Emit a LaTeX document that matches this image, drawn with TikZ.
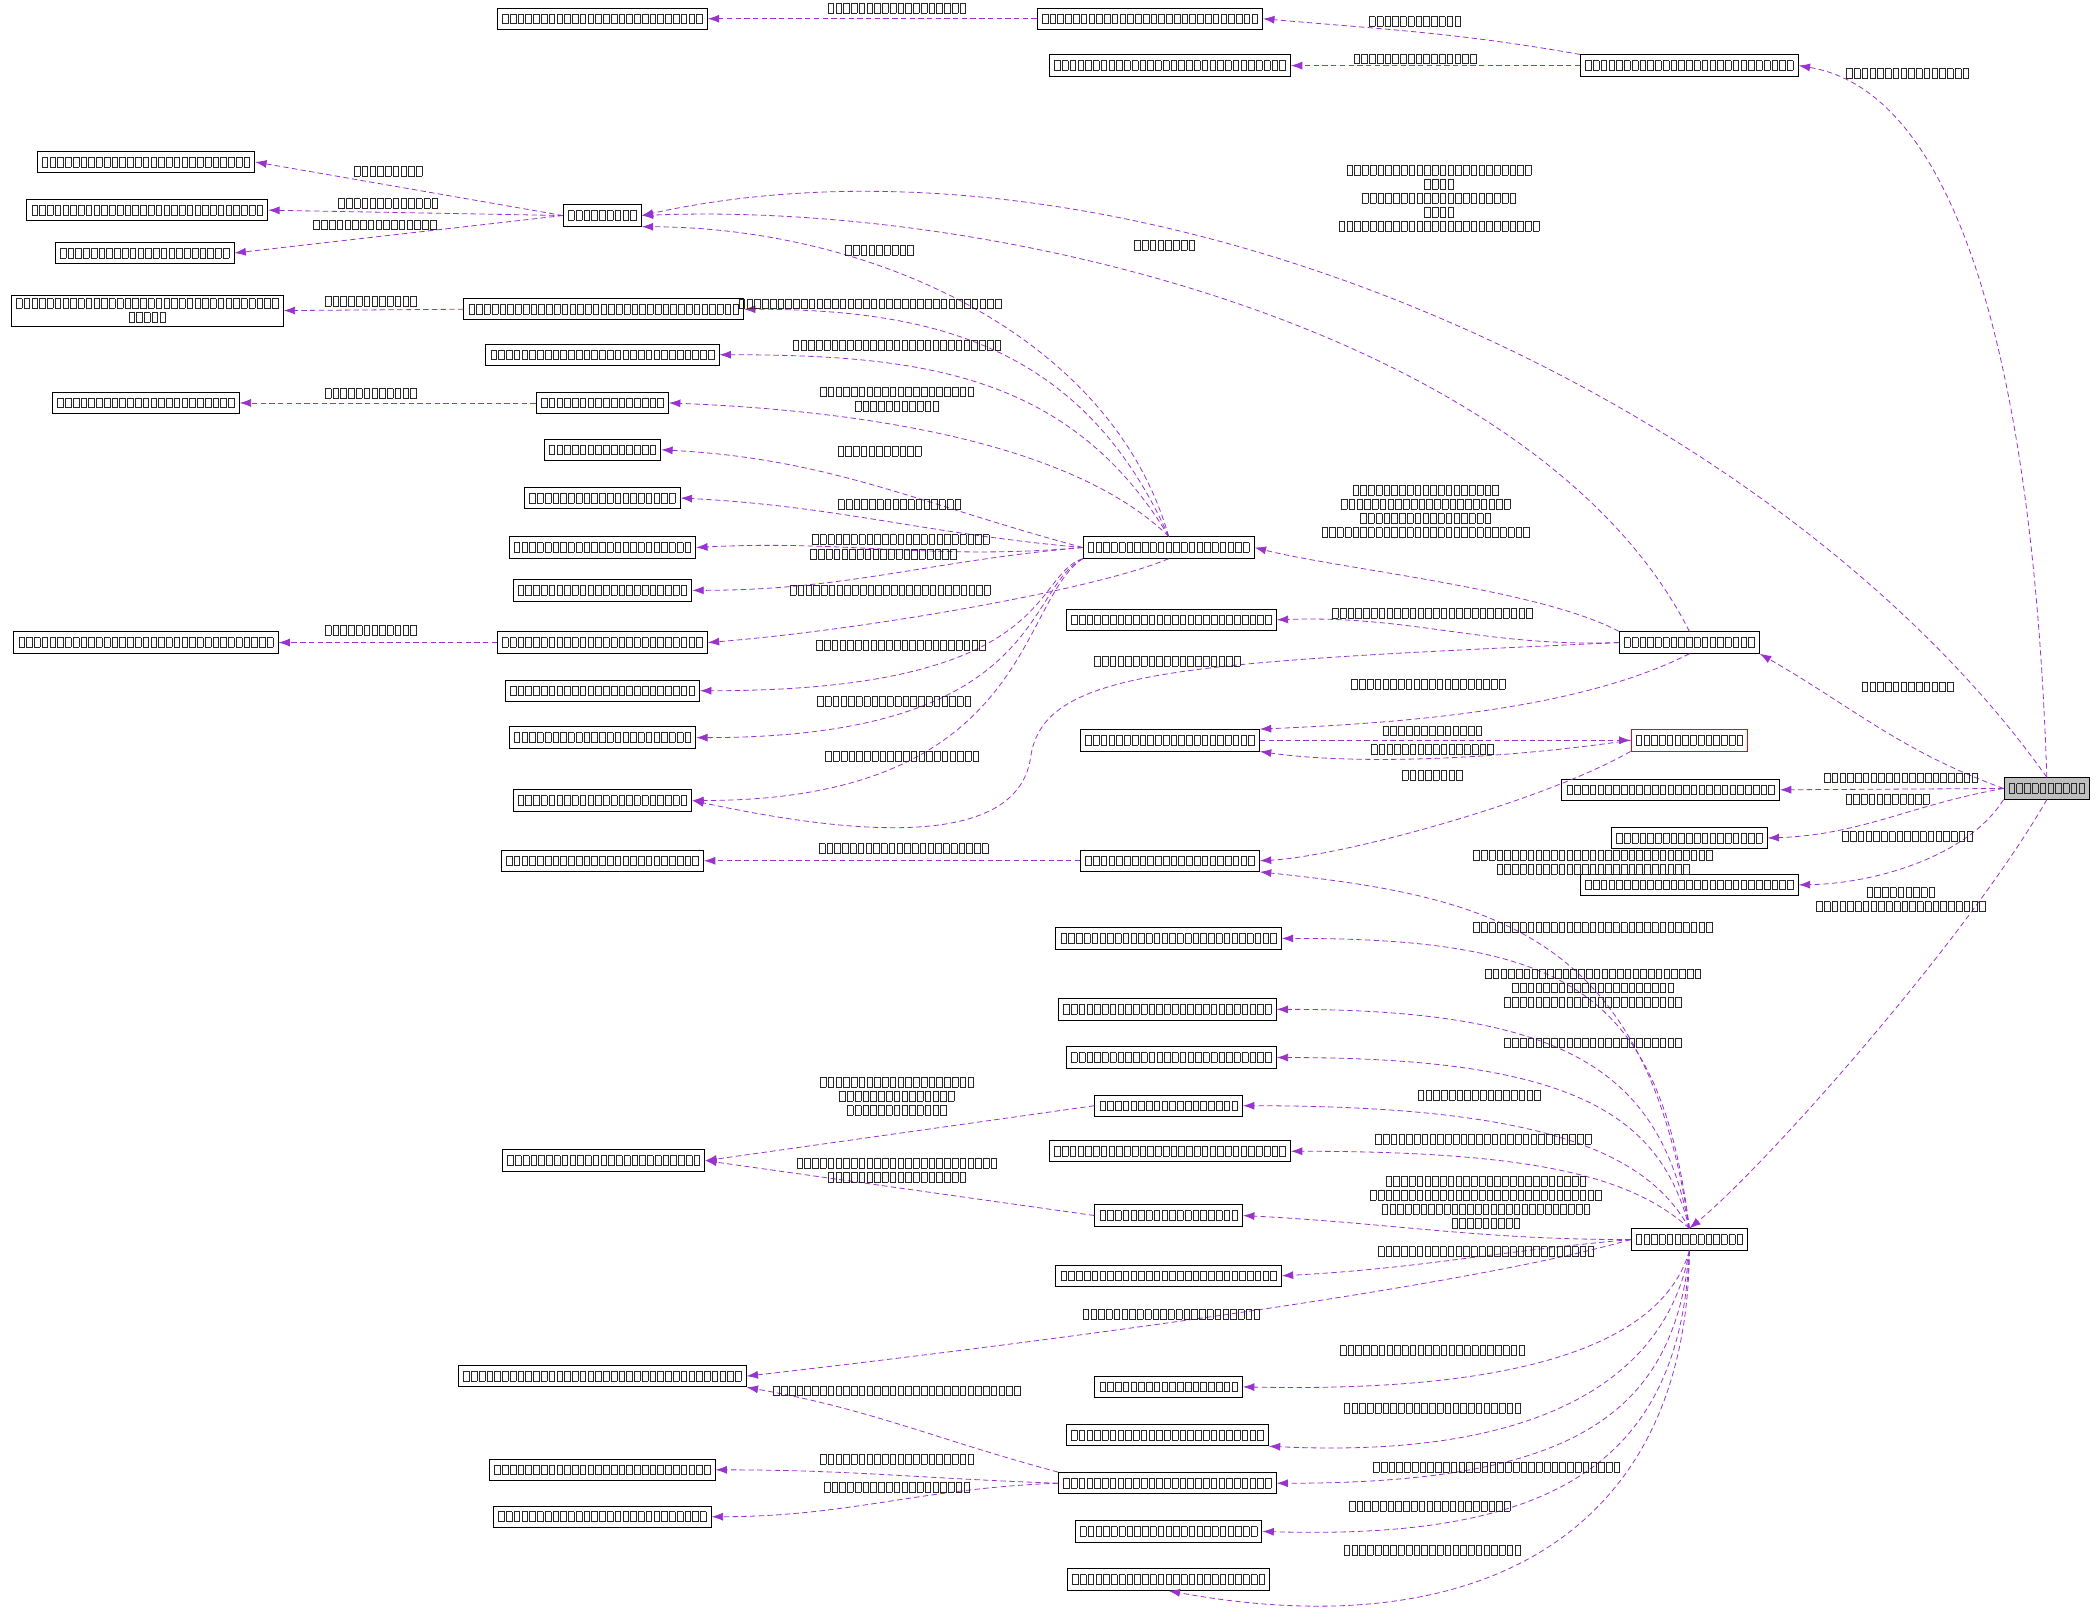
\documentclass[tikz,border=0pt]{standalone}
\usetikzlibrary{arrows.meta,positioning}
\definecolor{depcol}{RGB}{154,50,205}
\definecolor{rootfill}{RGB}{191,191,191}
\definecolor{glyphcol}{RGB}{40,40,40}
% one missing glyph, and a run of them about #1 units wide
\newcommand{\tofubox}{\makebox[5.8pt]{\fboxsep0pt\fboxrule.5pt\fbox{\rule{0pt}{6.8pt}\rule{3.7pt}{0pt}}}}
\newcommand{\gl}[1]{\pgfmathtruncatemacro\gn{#1/5.8+0.5}\foreach\i in {1,...,\gn}{\tofubox}}
\tikzset{x=1pt,y=-1pt}
\tikzset{cls/.style={draw=black,line width=.7pt,fill=white,inner xsep=3pt,inner ysep=2.5pt,minimum height=16,align=center,text=glyphcol,font=\fontsize{8}{10.5}\selectfont}}
\tikzset{lab/.style={align=center,inner sep=0pt,text=glyphcol,font=\fontsize{8}{10.5}\selectfont}}
\tikzset{dep/.style={depcol,line width=.6pt,dash pattern=on 4pt off 2.5pt,-{Latex[length=8.5pt,width=6pt]}}}
\begin{document}
\begin{tikzpicture}
  \useasboundingbox (0,0) rectangle (1568,1213);
  %% classes
  \node[cls] (A1) at (450,14) {\gl{150}};
  \node[cls] (A2) at (859,14) {\gl{164}};
  \node[cls] (A3) at (1262,49) {\gl{156}};
  \node[cls] (A4) at (874,49) {\gl{172}};
  \node[cls] (B1) at (109,121) {\gl{156}};
  \node[cls] (B2) at (110,157) {\gl{172}};
  \node[cls] (B3) at (108,189) {\gl{127}};
  \node[cls] (G) at (450,161) {\gl{52}};
  \node[cls] (C1) at (110,232) {\gl{200}\\\gl{30}};
  \node[cls] (C2) at (451,231) {\gl{204}};
  \node[cls] (C3) at (450,265) {\gl{171}};
  \node[cls] (D1) at (109,301) {\gl{135}};
  \node[cls] (D2) at (450,301) {\gl{91}};
  \node[cls] (E1) at (450,336) {\gl{82}};
  \node[cls] (E2) at (450,372) {\gl{113}};
  \node[cls] (E3) at (450,409) {\gl{136}};
  \node[cls] (E4) at (450,441) {\gl{128}};
  \node[cls] (F1) at (109,480) {\gl{194}};
  \node[cls] (F2) at (450,480) {\gl{151}};
  \node[cls] (E5) at (450,516) {\gl{142}};
  \node[cls] (E6) at (450,551) {\gl{136}};
  \node[cls] (E7) at (450,598) {\gl{128}};
  \node[cls] (E8) at (450,643) {\gl{143}};
  \node[cls] (H) at (873,409) {\gl{122}};
  \node[cls] (I1) at (875,463) {\gl{152}};
  \node[cls] (J) at (874,553) {\gl{128}};
  \node[cls] (K) at (874,643) {\gl{128}};
  \node[cls,draw=red] (R) at (1262,553) {\gl{84}};
  \node[cls] (M) at (1262,480) {\gl{100}};
  \node[cls,fill=rootfill] (ROOT) at (1529,589) {\gl{60}};
  \node[cls] (L1) at (1248,590) {\gl{156}};
  \node[cls] (L2) at (1262,626) {\gl{112}};
  \node[cls] (L3) at (1262,661) {\gl{156}};
  \node[cls] (N) at (1262,926) {\gl{84}};
  \node[cls] (O1) at (873,701) {\gl{165}};
  \node[cls] (O2) at (872,754) {\gl{157}};
  \node[cls] (O3) at (875,790) {\gl{152}};
  \node[cls] (O4) at (873,826) {\gl{106}};
  \node[cls] (O5) at (874,860) {\gl{172}};
  \node[cls] (O6) at (873,908) {\gl{106}};
  \node[cls] (O7) at (873,953) {\gl{165}};
  \node[cls] (P1) at (451,867) {\gl{145}};
  \node[cls] (P2) at (450,1028) {\gl{209}};
  \node[cls] (O8) at (873,1036) {\gl{106}};
  \node[cls] (O9) at (872,1072) {\gl{147}};
  \node[cls] (Q) at (872,1108) {\gl{157}};
  \node[cls] (Q1) at (450,1098) {\gl{164}};
  \node[cls] (Q2) at (450,1133) {\gl{156}};
  \node[cls] (O10) at (873,1144) {\gl{136}};
  \node[cls] (O11) at (873,1180) {\gl{147}};

  %% dependencies
  \draw[dep] (A2.west) -- (A1.east);
  \draw[dep] (A3.north west) to[out=170,in=-5] (A2.east);
  \draw[dep] (A3.west) -- (A4.east);
  \draw[dep] (ROOT.north) .. controls (1520,300) and (1470,70) .. (A3.east);
  \draw[dep] (G.west) -- (B1.east);
  \draw[dep] (G.west) -- (B2.east);
  \draw[dep] (G.west) -- (B3.east);
  \draw[dep] (ROOT.north) .. controls (1330,300) and (850,80) .. (G.east);
  \draw[dep] (M.north) .. controls (1150,250) and (750,150) .. (G.east);
  \draw[dep] (H.north) .. controls (830,250) and (650,170) .. (G.south east);
  \draw[dep] (C2.west) -- (C1.east);
  \draw[dep] (H.north) .. controls (810,260) and (700,231) .. (C2.east);
  \draw[dep] (H.north) .. controls (800,280) and (690,265) .. (C3.east);
  \draw[dep] (H.north) .. controls (790,320) and (600,305) .. (D2.east);
  \draw[dep] (D2.west) -- (D1.east);
  \draw[dep] (H.west) to[out=165,in=-3] (E1.east);
  \draw[dep] (H.west) to[out=175,in=-3] (E2.east);
  \draw[dep] (H.west) to[out=185,in=3] (E3.east);
  \draw[dep] (H.west) to[out=185,in=0] (E4.east);
  \draw[dep] (H.south) .. controls (820,440) and (650,470) .. (F2.east);
  \draw[dep] (F2.west) -- (F1.east);
  \draw[dep] (H.south west) .. controls (770,430) and (790,516) .. (E5.east);
  \draw[dep] (H.south west) .. controls (765,440) and (780,551) .. (E6.east);
  \draw[dep] (H.south west) .. controls (760,450) and (770,598) .. (E7.east);
  \draw[dep] (M.west) .. controls (880,495) and (780,500) .. (770,565) .. controls (760,640) and (620,620) .. (E7.east);
  \draw[dep] (K.west) -- (E8.east);
  \draw[dep] (M.north west) .. controls (1150,440) and (1000,425) .. (H.east);
  \draw[dep] (M.west) to[out=182,in=2] (I1.east);
  \draw[dep] (M.south) .. controls (1180,530) and (1050,540) .. (J.north east);
  \draw[dep] (J.east) -- (R.west);
  \draw[dep] (R.west) .. controls (1100,570) and (1000,570) .. (J.south east);
  \draw[dep] (R.south west) .. controls (1150,600) and (1000,640) .. (K.east);
  \draw[dep] (ROOT.west) to[out=160,in=-30] (M.south east);
  \draw[dep] (ROOT.west) -- (L1.east);
  \draw[dep] (ROOT.west) to[out=190,in=2] (L2.east);
  \draw[dep] (ROOT.south west) .. controls (1470,640) and (1400,660) .. (L3.east);
  \draw[dep] (ROOT.south) .. controls (1470,700) and (1320,870) .. (N.north);
  \draw[dep] (N.north) .. controls (1230,700) and (1120,670) .. (K.south east);
  \draw[dep] (N.north) .. controls (1240,740) and (1170,701) .. (O1.east);
  \draw[dep] (N.north) .. controls (1240,800) and (1170,754) .. (O2.east);
  \draw[dep] (N.north) .. controls (1240,830) and (1170,790) .. (O3.east);
  \draw[dep] (N.north) .. controls (1230,860) and (1150,826) .. (O4.east);
  \draw[dep] (N.north) .. controls (1220,880) and (1150,860) .. (O5.east);
  \draw[dep] (N.west) to[out=180,in=-3] (O6.east);
  \draw[dep] (N.west) to[out=185,in=3] (O7.east);
  \draw[dep] (N.west) .. controls (1100,960) and (800,1000) .. (P2.east);
  \draw[dep] (O4.west) -- (P1.east);
  \draw[dep] (O6.west) -- (P1.east);
  \draw[dep] (N.south) .. controls (1240,1010) and (1120,1040) .. (O8.east);
  \draw[dep] (N.south) .. controls (1245,1030) and (1150,1090) .. (O9.south east);
  \draw[dep] (N.south) .. controls (1250,1060) and (1170,1108) .. (Q.east);
  \draw[dep] (N.south) .. controls (1255,1100) and (1150,1150) .. (O10.east);
  \draw[dep] (N.south) .. controls (1260,1150) and (1100,1230) .. (O11.south);
  \draw[dep] (Q.north west) to[out=165,in=-10] (P2.south east);
  \draw[dep] (Q.west) to[out=178,in=0] (Q1.east);
  \draw[dep] (Q.west) to[out=182,in=0] (Q2.east);

  %% edge labels
  \node[lab] (l1) at (670,6) {\gl{103}};
  \node[lab] (l2) at (1057,16) {\gl{70}};
  \node[lab] (l3) at (1057,44) {\gl{94}};
  \node[lab] (l4) at (1425,55) {\gl{94}};
  \node[lab] (l5) at (290,128) {\gl{55}};
  \node[lab] (l6) at (290,152) {\gl{78}};
  \node[lab] (l7) at (280,168) {\gl{94}};
  \node[lab] (l8) at (1075,148) {\gl{140}\\\gl{23}\\\gl{117}\\\gl{23}\\\gl{148}};
  \node[lab] (l9) at (870,183) {\gl{47}};
  \node[lab] (l10) at (657,187) {\gl{55}};
  \node[lab] (l11) at (277,225) {\gl{70}};
  \node[lab] (l12) at (650,227) {\gl{195}};
  \node[lab] (l13) at (670,258) {\gl{156}};
  \node[lab] (l14) at (670,298) {\gl{117}\\\gl{62}};
  \node[lab] (l15) at (277,294) {\gl{70}};
  \node[lab] (l16) at (657,337) {\gl{62}};
  \node[lab] (l17) at (672,377) {\gl{94}};
  \node[lab] (l18) at (673,403) {\gl{133}};
  \node[lab] (l19) at (660,414) {\gl{109}};
  \node[lab] (l20) at (665,441) {\gl{148}};
  \node[lab] (l21) at (277,471) {\gl{70}};
  \node[lab] (l22) at (673,482) {\gl{125}};
  \node[lab] (l23) at (668,524) {\gl{117}};
  \node[lab] (l24) at (674,565) {\gl{117}};
  \node[lab] (l25) at (872,494) {\gl{109}};
  \node[lab] (l26) at (675,634) {\gl{125}};
  \node[lab] (l27) at (1065,382) {\gl{109}\\\gl{125}\\\gl{101}\\\gl{156}};
  \node[lab] (l28) at (1070,458) {\gl{148}};
  \node[lab] (l29) at (1067,511) {\gl{117}};
  \node[lab] (l30) at (1070,546) {\gl{78}};
  \node[lab] (l31) at (1070,560) {\gl{94}};
  \node[lab] (l32) at (1070,579) {\gl{47}};
  \node[lab] (l33) at (1425,513) {\gl{70}};
  \node[lab] (l34) at (1420,581) {\gl{117}};
  \node[lab] (l35) at (1410,597) {\gl{62}};
  \node[lab] (l36) at (1425,625) {\gl{101}};
  \node[lab] (l37) at (1420,672) {\gl{55}\\\gl{125}};
  \node[lab] (l38) at (1190,644) {\gl{180}\\\gl{145}};
  \node[lab] (l39) at (1190,693) {\gl{180}};
  \node[lab] (l40) at (1190,738) {\gl{165}\\\gl{120}\\\gl{135}};
  \node[lab] (l41) at (1190,779) {\gl{135}};
  \node[lab] (l42) at (1105,818) {\gl{94}};
  \node[lab] (l43) at (1108,851) {\gl{165}};
  \node[lab] (l44) at (1110,898) {\gl{150}\\\gl{172}\\\gl{158}\\\gl{55}};
  \node[lab] (l45) at (1110,935) {\gl{165}};
  \node[lab] (l46) at (875,982) {\gl{133}};
  \node[lab] (l47) at (1070,1009) {\gl{140}};
  \node[lab] (l48) at (1070,1052) {\gl{135}};
  \node[lab] (l49) at (1118,1096) {\gl{185}};
  \node[lab] (l50) at (1068,1125) {\gl{120}};
  \node[lab] (l51) at (1070,1158) {\gl{135}};
  \node[lab] (l52) at (670,819) {\gl{117}\\\gl{86}\\\gl{78}};
  \node[lab] (l53) at (670,874) {\gl{150}\\\gl{105}};
  \node[lab] (l54) at (670,1039) {\gl{185}};
  \node[lab] (l55) at (670,1090) {\gl{117}};
  \node[lab] (l56) at (670,1111) {\gl{109}};
\end{tikzpicture}
\end{document}
